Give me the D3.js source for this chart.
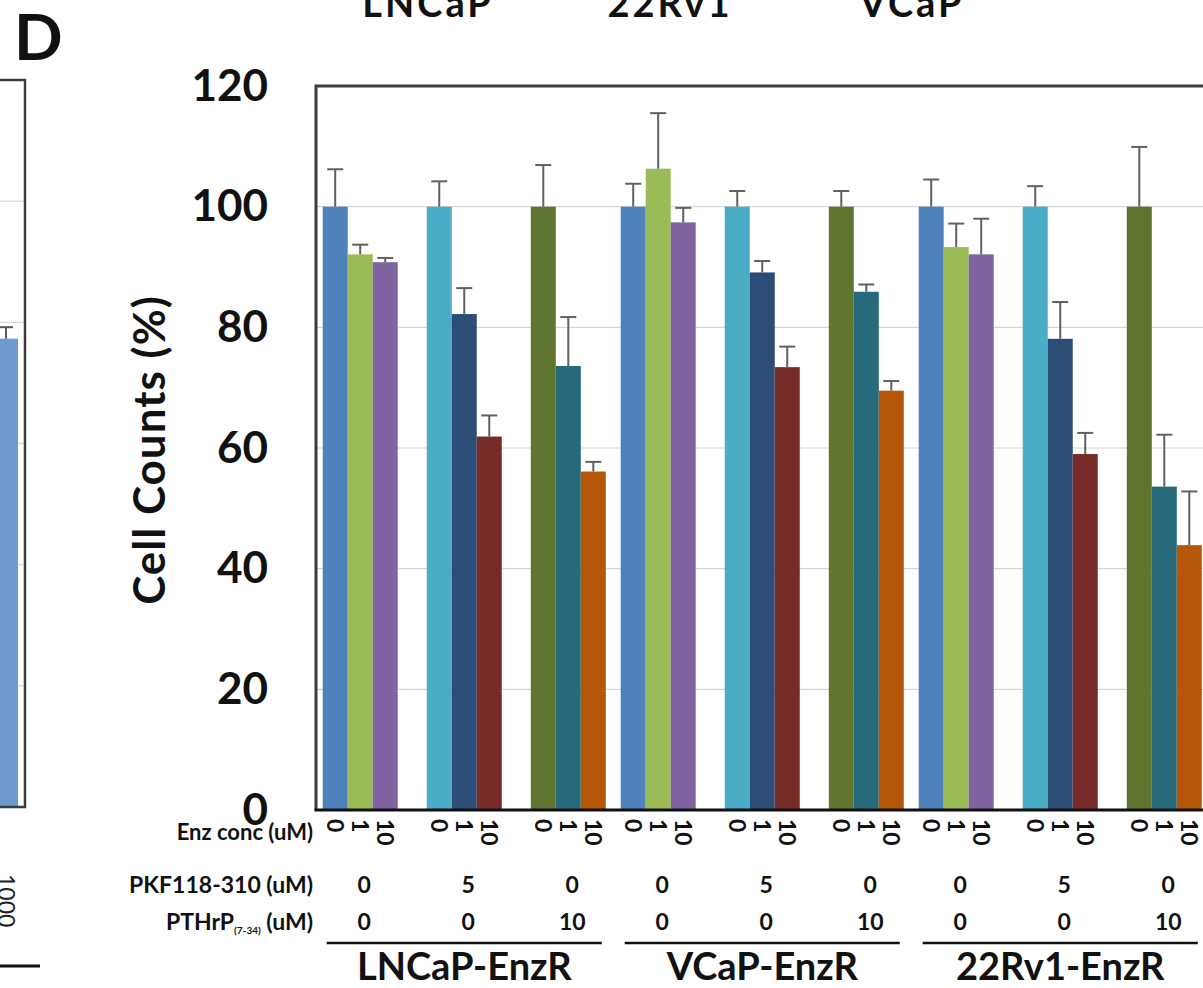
<!DOCTYPE html>
<html><head><meta charset="utf-8">
<script src="https://cdn.jsdelivr.net/npm/d3@7"></script>
<style>html,body{margin:0;padding:0;background:#fff;overflow:hidden}</style>
</head><body><svg id="chart" width="1203" height="988"></svg>
<script>
// ---------- data ----------
const cellLines = ["LNCaP-EnzR", "VCaP-EnzR", "22Rv1-EnzR"];
const treatments = ["control", "PKF118-310", "PTHrP(7-34)"];
const enzConc = ["0", "1", "10"];
const pkfDose = ["0", "5", "0"];
const pthrpDose = ["0", "0", "10"];
const lncapMeans = [100, 92.1, 90.8, 100, 82.2, 61.9, 100, 73.6, 56.1];
const lncapErr   = [6.2, 1.6, 0.7, 4.2, 4.3, 3.5, 6.9, 8.1, 1.6];
const vcapMeans  = [100, 106.3, 97.4, 100, 89.1, 73.4, 100, 85.9, 69.5];
const vcapErr    = [3.8, 9.2, 2.4, 2.6, 1.9, 3.4, 2.6, 1.2, 1.6];
const rv1Means   = [100, 93.3, 92.1, 100, 78.1, 59.0, 100, 53.6, 43.9];
const rv1Err     = [4.5, 3.9, 5.9, 3.4, 6.1, 3.5, 9.9, 8.6, 8.9];
const barColors  = ["#4F81BD", "#9BBB59", "#8064A2",
                    "#4BACC6", "#2C4D75", "#772C2A",
                    "#5F7530", "#276A7C", "#B65708"];
const yTicks = [0, 20, 40, 60, 80, 100, 120];
const rowLabels = ["Enz conc (uM)", "PKF118-310 (uM)", "PTHrP"];
const topLabels = ["LNCaP", "22Rv1", "VCaP"];
const panelLetter = "D";
// neighbouring (cut-off) panel on the left
const prevLabels = ["1000"];
const prevMeans = [77.3];
const prevErr = [1.9];

// ---------- layout ----------
const FONT = "Lato, 'Open Sans', sans-serif";
const svg = d3.select("#chart");
const plotL = 316, plotR = 1208.5, plotT = 86, plotB = 810;

const y = d3.scaleLinear().domain([0, 120]).range([plotB, plotT]);
const x0 = d3.scaleBand().domain(cellLines).range([plotL, plotR])
  .paddingInner(0.05).paddingOuter(0.0225);
const x1 = d3.scaleBand().domain(treatments).range([0, x0.bandwidth()])
  .paddingInner(0.279).paddingOuter(0);
const x2 = d3.scaleBand().domain(enzConc).range([0, x1.bandwidth()]).padding(0);

const meansByLine = [lncapMeans, vcapMeans, rv1Means];
const errByLine = [lncapErr, vcapErr, rv1Err];
const bars = [];
cellLines.forEach((cl, i) => treatments.forEach((t, j) => enzConc.forEach((c, k) => {
  bars.push({cl, t, c, v: meansByLine[i][j * 3 + k], e: errByLine[i][j * 3 + k], color: barColors[j * 3 + k]});
})));
const bx = d => x0(d.cl) + x1(d.t) + x2(d.c);

// gridlines
svg.append("g").selectAll("line").data(yTicks.filter(t => t > 0 && t < 120)).join("line")
  .attr("x1", plotL).attr("x2", plotR).attr("y1", d => y(d)).attr("y2", d => y(d))
  .attr("stroke", "#d6d6d6").attr("stroke-width", 1.2);

// bars
svg.append("g").selectAll("rect").data(bars).join("rect")
  .attr("x", bx).attr("width", x2.bandwidth())
  .attr("y", d => y(d.v)).attr("height", d => y(0) - y(d.v))
  .attr("fill", d => d.color);

// error bars
const eg = svg.append("g").attr("stroke", "#606060").attr("stroke-width", 2);
bars.forEach(d => {
  const cx = bx(d) + x2.bandwidth() / 2;
  eg.append("line").attr("x1", cx).attr("x2", cx).attr("y1", y(d.v)).attr("y2", y(d.v + d.e));
  eg.append("line").attr("x1", cx - 8).attr("x2", cx + 8).attr("y1", y(d.v + d.e)).attr("y2", y(d.v + d.e));
});

// frame
svg.append("path")
  .attr("d", `M${plotL},${plotB}V${plotT}H${plotR}V${plotB}`)
  .attr("fill", "none").attr("stroke", "#3c3c3c").attr("stroke-width", 3);
svg.append("line").attr("x1", plotL - 1.5).attr("x2", plotR).attr("y1", plotB).attr("y2", plotB)
  .attr("stroke", "#111").attr("stroke-width", 3);

// y axis labels
const yAxis = svg.append("g").attr("transform", `translate(${plotL},0)`)
  .call(d3.axisLeft(y).tickValues(yTicks).tickSize(0).tickPadding(48));
yAxis.select(".domain").remove();
yAxis.selectAll("text").attr("font-family", FONT).attr("font-weight", 700)
  .attr("font-size", 44).attr("fill", "#111");

// y title
svg.append("text").attr("transform", "translate(165,450) rotate(-90)")
  .attr("text-anchor", "middle").attr("font-family", FONT).attr("font-weight", 700)
  .attr("font-size", 44).attr("letter-spacing", 1).attr("fill", "#111").text("Cell Counts (%)");

// rotated enz conc tick labels
svg.append("g").selectAll("text").data(bars).join("text")
  .attr("transform", d => `translate(${bx(d) + x2.bandwidth() / 2},819) rotate(90)`)
  .attr("dy", "0.36em").attr("text-anchor", "start")
  .attr("font-family", FONT).attr("font-weight", 700).attr("font-size", 23).attr("fill", "#111")
  .text(d => d.c);

// row labels
const rowBase = [840, 893, 930];
const rl = svg.append("g").attr("font-family", FONT).attr("font-weight", 700)
  .attr("font-size", 23).attr("fill", "#111").attr("text-anchor", "end");
rl.append("text").attr("x", 313).attr("y", rowBase[0]).attr("font-size", 22).text(rowLabels[0]);
rl.append("text").attr("x", 313).attr("y", rowBase[1]).text(rowLabels[1]);
const pt = rl.append("text").attr("x", 313).attr("y", rowBase[2]);
pt.append("tspan").text(rowLabels[2]);
pt.append("tspan").attr("font-size", 10).attr("dy", 4).text("(7-34)");
pt.append("tspan").attr("dy", -4).text(" (uM)");

// dose rows
const groups = [];
cellLines.forEach(cl => treatments.forEach((t, j) => groups.push({cl, t, j})));
const gx = d => x0(d.cl) + x1(d.t) + x1.bandwidth() / 2 + 4;
const dg = svg.append("g").attr("font-family", FONT).attr("font-weight", 700)
  .attr("font-size", 23).attr("fill", "#111").attr("text-anchor", "middle");
dg.selectAll(".pkf").data(groups).join("text").attr("class", "pkf")
  .attr("x", gx).attr("y", rowBase[1]).text(d => pkfDose[d.j]);
dg.selectAll(".pth").data(groups).join("text").attr("class", "pth")
  .attr("x", gx).attr("y", rowBase[2]).text(d => pthrpDose[d.j]);

// cell line underline + label
const cg = svg.append("g");
cg.selectAll("line").data(cellLines).join("line")
  .attr("x1", d => x0(d) + 4).attr("x2", d => x0(d) + x0.bandwidth() - 4)
  .attr("y1", 943).attr("y2", 943).attr("stroke", "#111").attr("stroke-width", 2.5);
cg.selectAll("text").data(cellLines).join("text")
  .attr("x", d => x0(d) + x0.bandwidth() / 2).attr("y", 980)
  .attr("text-anchor", "middle").attr("font-family", FONT).attr("font-weight", 700)
  .attr("font-size", 38).attr("fill", "#111").text(d => d);

// panel letter
svg.append("text").attr("x", 14).attr("y", 60).attr("font-family", FONT)
  .attr("font-weight", 700).attr("font-size", 64).attr("fill", "#111").text(panelLetter);

// cut-off labels at top
const tx = d3.scalePoint().domain(topLabels).range([428, 912]);
svg.append("g").selectAll("text").data(topLabels).join("text")
  .attr("x", d => tx(d)).attr("y", 17).attr("text-anchor", "middle")
  .attr("font-family", FONT).attr("font-weight", 700).attr("font-size", 38)
  .attr("letter-spacing", 3).attr("fill", "#111").text(d => d);

// neighbouring panel (cut off at left)
const yp = d3.scaleLinear().domain([0, 120]).range([807, 80]);
const xp = d3.scaleBand().domain(prevLabels).range([-6, 18]);
svg.append("g").selectAll("line").data(yTicks.filter(t => t > 0 && t < 120)).join("line")
  .attr("x1", 0).attr("x2", 25).attr("y1", d => yp(d)).attr("y2", d => yp(d))
  .attr("stroke", "#d6d6d6").attr("stroke-width", 1.2);
svg.append("g").selectAll("rect").data(prevLabels).join("rect")
  .attr("x", d => xp(d)).attr("width", xp.bandwidth())
  .attr("y", (d, i) => yp(prevMeans[i])).attr("height", (d, i) => yp(0) - yp(prevMeans[i]))
  .attr("fill", "#6E9AD0");
prevLabels.forEach((d, i) => {
  const cx = xp(d) + xp.bandwidth() / 2;
  svg.append("line").attr("x1", cx).attr("x2", cx).attr("y1", yp(prevMeans[i])).attr("y2", yp(prevMeans[i] + prevErr[i]))
    .attr("stroke", "#5a5a5a").attr("stroke-width", 2);
  svg.append("line").attr("x1", cx - 7).attr("x2", cx + 7).attr("y1", yp(prevMeans[i] + prevErr[i])).attr("y2", yp(prevMeans[i] + prevErr[i]))
    .attr("stroke", "#5a5a5a").attr("stroke-width", 2);
});
svg.append("path").attr("d", `M0,${yp(120)}H25V${yp(0)}H0`)
  .attr("fill", "none").attr("stroke", "#3c3c3c").attr("stroke-width", 2.5);
svg.append("g").selectAll("text").data(prevLabels).join("text")
  .attr("transform", d => `translate(${xp(d) + xp.bandwidth() / 2},874) rotate(90)`)
  .attr("dy", "0.36em").attr("font-family", FONT).attr("font-weight", 400)
  .attr("font-size", 23).attr("fill", "#222").text(d => d);
svg.append("line").attr("x1", 0).attr("x2", 40).attr("y1", 966).attr("y2", 966)
  .attr("stroke", "#111").attr("stroke-width", 3);
</script>
</body></html>
